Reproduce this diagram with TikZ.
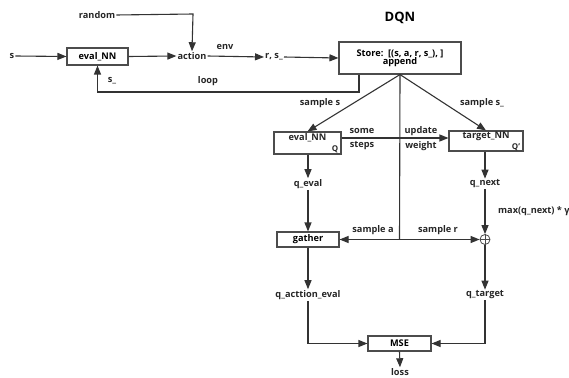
\documentclass[tikz,border=0pt]{standalone}
\usepackage{fontspec}
\setmainfont{Open Sans}
\usetikzlibrary{arrows.meta}
\begin{document}
\begin{tikzpicture}[x=1pt,y=-1pt,
  font=\fontsize{9.2}{10}\selectfont\bfseries,
  txt/.style={inner sep=1pt, text=black!85},
  box/.style={draw=black!70, line width=1.1pt, inner sep=0pt, fill=white},
  ln/.style={draw=black!80, line width=1.1pt},
  arr/.style={ln, -{Triangle[length=9pt,width=7pt]}}]
\useasboundingbox (0,0) rectangle (569,377);
% top row
\node[txt] (random) at (97,15) {random};
\node[txt] (s) at (12,56) {s};
\node[box, minimum width=61pt, minimum height=17pt] (eval1) at (97.5,56.5) {eval\_NN};
\node[txt] (action) at (192,56) {action};
\node[txt] (env) at (225,47) {env};
\node[txt] (rs) at (274,57) {r, s\_};
\node[box, minimum width=122pt, minimum height=32pt, align=center] (store) at (400,58) {Store:\ \ [(s, a, r, s\_), ]\\[-2pt] append};
\node[inner sep=0pt, font=\fontsize{13}{14}\selectfont\bfseries] (dqn) at (400,18) {DQN};
\coordinate (rturn) at (193,14);
\draw[arr] (random.east) -- (rturn) -- (action.north);
\draw[arr] (s.east) -- (eval1.west);
\draw[arr] (eval1.east) -- (action.west);
\draw[arr] (action.east) -- (rs.west);
\draw[arr] (rs.east) -- (store.west);
\coordinate (l1) at (359,92);
\coordinate (l2) at (97.5,92);
\draw[arr] (store.south -| l1) -- (l1) -- (l2) -- (eval1.south);
\node[txt] (sl) at (112,81) {s\_};
\node[txt] (loop) at (208,81) {loop};
% networks
\node[box, minimum width=67pt, minimum height=22pt] (eval2) at (307.5,143) {};
\node[txt] (eval2t) at (307.5,137.5) {eval\_NN};
\node[txt, font=\fontsize{8}{9}\selectfont\bfseries] (eval2q) at (335,149) {Q};
\node[box, minimum width=74pt, minimum height=20pt] (target) at (486,141) {};
\node[txt] (targett) at (486,136) {target\_NN};
\node[txt, font=\fontsize{8}{9}\selectfont\bfseries] (targetq) at (516,147) {Q'};
\draw[arr] (store.south) -- (eval2.north);
\draw[arr] (store.south) -- (target.north);
\node[txt] (ss) at (320,103) {sample s};
\node[txt] (ss2) at (482,103) {sample s\_};
\draw[arr] (eval2.east |- 0,138) -- (target.west |- 0,138);
\node[txt] (some) at (362,131) {some};
\node[txt] (steps) at (362,146) {steps};
\node[txt] (update) at (421,131) {update};
\node[txt] (weight) at (421,146) {weight};
% middle
\node[txt] (qeval) at (308,184) {q\_eval};
\node[txt] (qnext) at (485,184) {q\_next};
\draw[arr] (eval2.south -| qeval) -- (qeval.north);
\draw[arr] (target.south -| qnext) -- (qnext.north);
\node[box, minimum width=62pt, minimum height=15pt] (gather) at (308,239.5) {gather};
\node[draw=black!70, line width=0.8pt, circle, minimum size=10pt, inner sep=0pt, fill=white] (plus) at (485,239.5) {};
\draw[black!70, line width=0.7pt] (plus.north) -- (plus.south) (plus.west) -- (plus.east);
\draw[arr] (qeval.south) -- (gather.north);
\draw[arr] (qnext.south) -- (plus.north);
\node[txt, anchor=west] (maxl) at (497,211) {max(q\_next) * γ};
\coordinate (split) at (399.5,239.5);
\draw[ln] (store.south) -- (split);
\draw[arr] (split) -- (gather.east);
\draw[arr] (split) -- (plus.west);
\node[txt] (sa) at (373,230) {sample a};
\node[txt] (sr) at (438,230) {sample r};
% bottom
\node[txt] (qae) at (308,295) {q\_acttion\_eval};
\node[txt] (qt) at (485,295) {q\_target};
\draw[arr] (gather.south) -- (qae.north);
\draw[arr] (plus.south) -- (qt.north);
\node[box, minimum width=63pt, minimum height=15pt] (mse) at (399.5,343.5) {MSE};
\draw[arr] (qae.south) |- (mse.west);
\draw[arr] (qt.south) |- (mse.east);
\node[txt] (loss) at (400,372) {loss};
\draw[arr] (mse.south) -- (loss.north);
\end{tikzpicture}
\end{document}
